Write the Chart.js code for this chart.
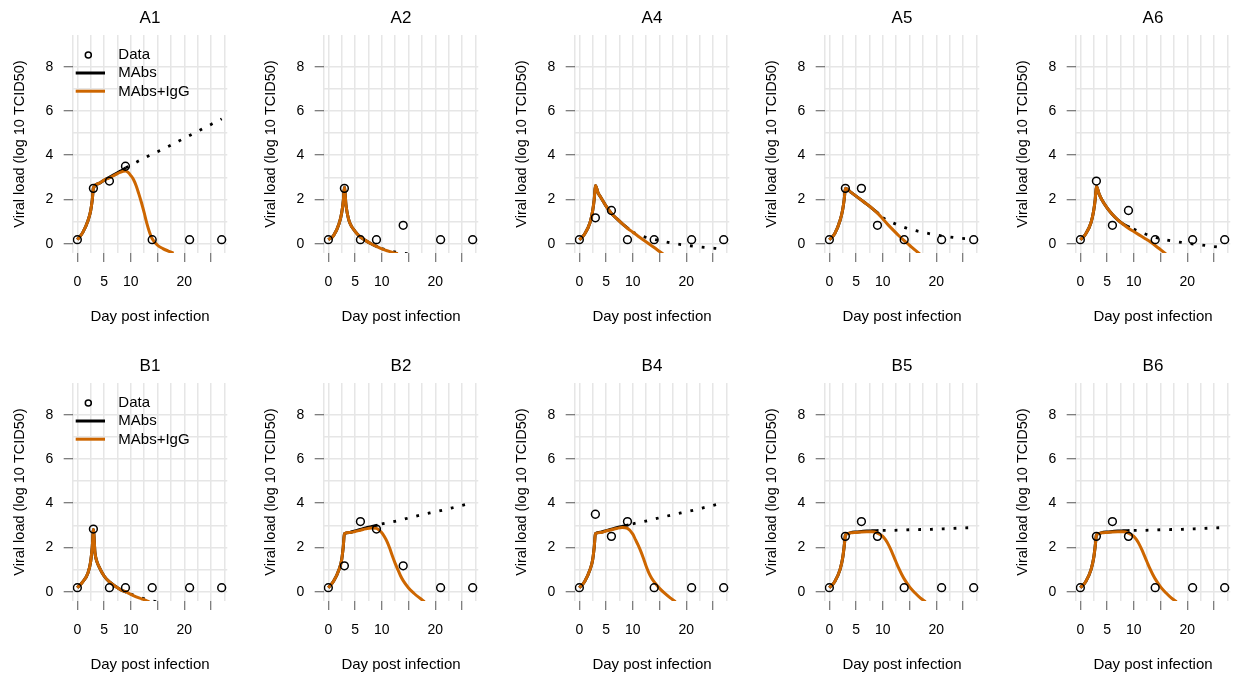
<!DOCTYPE html>
<html><head><meta charset="utf-8">
<script src="https://cdn.jsdelivr.net/npm/chart.js@4/dist/chart.umd.min.js"></script>
<style>
html,body{margin:0;padding:0;background:#fff;overflow:hidden;width:1236px;height:677px;position:relative;}
canvas{position:absolute;}
</style></head><body>
<script>
// ---------- data ----------
const panelNames = ['A1','A2','A4','A5','A6','B1','B2','B4','B5','B6'];
const obsDays = [0,3,6,9,14,21,27];
const xTicks = [0,5,10,15,20,25];
const xTickLabels = ['0','5','10','','20',''];
const yTicks = [0,2,4,6,8];
const yTickLabels = ['0','2','4','6','8'];
const legendLabels = ['Data','MAbs','MAbs+IgG'];
const xTitle = 'Day post infection';
const yTitle = 'Viral load (log 10 TCID50)';

const obsA1 = [0.18,2.5,2.83,3.5,0.18,0.18,0.18];
const obsA2 = [0.18,2.5,0.18,0.18,0.83,0.18,0.18];
const obsA4 = [0.18,1.17,1.5,0.18,0.18,0.18,0.18];
const obsA5 = [0.18,2.5,2.5,0.83,0.18,0.18,0.18];
const obsA6 = [0.18,2.83,0.83,1.5,0.18,0.18,0.18];
const obsB1 = [0.18,2.83,0.18,0.18,0.18,0.18,0.18];
const obsB2 = [0.18,1.17,3.17,2.83,1.17,0.18,0.18];
const obsB4 = [0.18,3.5,2.5,3.17,0.18,0.18,0.18];
const obsB5 = [0.18,2.5,3.17,2.5,0.18,0.18,0.18];
const obsB6 = [0.18,2.5,3.17,2.5,0.18,0.18,0.18];

// MAbs+IgG model curves [day, value]
const igA1 = [[0,0.18],[1,0.5],[2,1.05],[2.5,1.5],[2.8,2.0],[3,2.51],[4,2.72],[5,2.87],[6,2.98],[7,3.1],[8,3.22],[9,3.28],[9.5,3.22],[10,3.08],[10.5,2.9],[11,2.62],[11.5,2.25],[12,1.85],[12.5,1.4],[13,0.92],[13.5,0.52],[14,0.22],[15,-0.07],[16,-0.22],[17,-0.33],[18,-0.43]];
const igA2 = [[0,0.18],[1,0.38],[2,0.9],[2.5,1.4],[2.8,1.95],[3,2.55],[3.3,1.75],[3.6,1.3],[4,0.95],[5,0.56],[6,0.3],[7,0.14],[8,0.0],[9,-0.12],[10,-0.23],[11,-0.32],[12,-0.39],[13,-0.45]];
const igA4 = [[0,0.18],[1,0.44],[2,0.96],[2.5,1.5],[2.8,2.05],[3,2.63],[3.5,2.3],[4,2.1],[5,1.7],[6,1.37],[7,1.13],[8,0.91],[9,0.7],[10,0.52],[11,0.34],[12,0.17],[13,0.0],[14,-0.17],[15,-0.35],[16,-0.52]];
const igA5 = [[0,0.18],[1,0.45],[2,1.05],[2.5,1.55],[2.8,2.05],[3,2.51],[4,2.33],[5,2.15],[6,1.97],[7,1.79],[8,1.6],[9,1.38],[10,1.12],[11,0.85],[12,0.6],[13,0.36],[14,0.14],[15,-0.07],[16,-0.28],[17,-0.48]];
const igA6 = [[0,0.18],[1,0.44],[2,0.96],[2.5,1.5],[2.8,2.05],[3,2.6],[3.5,2.25],[4,2.0],[5,1.62],[6,1.32],[7,1.08],[8,0.88],[9,0.7],[10,0.55],[11,0.4],[12,0.25],[13,0.1],[14,-0.08],[15,-0.27],[16,-0.46]];
const igB1 = [[0,0.18],[1,0.44],[2,0.86],[2.5,1.38],[2.8,2.06],[3,2.81],[3.3,1.76],[3.6,1.4],[4,1.16],[5,0.71],[6,0.44],[7,0.26],[8,0.1],[9,0.0],[10,-0.12],[11,-0.23],[12,-0.32],[13,-0.41],[13.5,-0.46]];
const igB2 = [[0,0.18],[1,0.48],[2,1.0],[2.5,1.46],[2.8,2.06],[3,2.62],[4,2.67],[5,2.72],[6,2.78],[7,2.84],[8,2.88],[9,2.86],[10,2.66],[10.5,2.48],[11,2.25],[11.5,1.95],[12,1.6],[12.5,1.28],[13,1.0],[13.5,0.72],[14,0.5],[15,0.17],[16,-0.07],[17,-0.27],[18,-0.45]];
const igB4 = [[0,0.18],[1,0.46],[2,1.0],[2.5,1.46],[2.8,2.06],[3,2.62],[4,2.68],[5,2.74],[6,2.8],[7,2.86],[8,2.9],[9,2.86],[10,2.6],[10.5,2.35],[11,2.1],[11.5,1.82],[12,1.5],[12.5,1.15],[13,0.85],[13.5,0.62],[14,0.44],[15,0.15],[16,-0.08],[17,-0.28],[18,-0.45]];
const igB5 = [[0,0.18],[1,0.45],[2,1.0],[2.5,1.53],[2.8,2.1],[3,2.55],[3.5,2.63],[4,2.66],[5,2.68],[6,2.7],[7,2.71],[8,2.71],[9,2.65],[10,2.5],[10.5,2.35],[11,2.15],[11.5,1.9],[12,1.62],[12.5,1.33],[13,1.05],[13.5,0.8],[14,0.58],[15,0.22],[16,-0.05],[17,-0.28],[18,-0.45]];
const igB6 = [[0,0.18],[1,0.45],[2,1.0],[2.5,1.53],[2.8,2.1],[3,2.55],[3.5,2.63],[4,2.66],[5,2.68],[6,2.7],[7,2.71],[8,2.71],[9,2.65],[10,2.5],[10.5,2.35],[11,2.15],[11.5,1.9],[12,1.62],[12.5,1.33],[13,1.05],[13.5,0.8],[14,0.58],[15,0.22],[16,-0.05],[17,-0.28],[18,-0.45]];

// MAbs model curves, fitted part (solid)
const mabsA1 = [[0,0.18],[1,0.5],[2,1.05],[2.5,1.5],[2.8,2.0],[3,2.51],[4,2.72],[5,2.87],[6,3.0],[7,3.13],[8,3.27],[9.1,3.43]];
const mabsA2 = [[0,0.18],[1,0.38],[2,0.9],[2.5,1.4],[2.8,1.95],[3,2.55],[3.3,1.75],[3.6,1.3],[4,0.95],[5,0.56],[6,0.3],[7,0.14],[8,0.0],[9.2,-0.14]];
const mabsA4 = [[0,0.18],[1,0.44],[2,0.96],[2.5,1.5],[2.8,2.05],[3,2.63],[3.5,2.3],[4,2.1],[5,1.7],[6,1.37],[7,1.13],[8,0.91],[9.2,0.67]];
const mabsA5 = [[0,0.18],[1,0.45],[2,1.05],[2.5,1.55],[2.8,2.05],[3,2.51],[4,2.33],[5,2.15],[6,1.97],[7,1.79],[8,1.6],[9.2,1.35]];
const mabsA6 = [[0,0.18],[1,0.44],[2,0.96],[2.5,1.5],[2.8,2.05],[3,2.6],[3.5,2.25],[4,2.0],[5,1.62],[6,1.32],[7,1.08],[8,0.89],[9.2,0.74]];
const mabsB1 = [[0,0.18],[1,0.44],[2,0.86],[2.5,1.38],[2.8,2.06],[3,2.81],[3.3,1.76],[3.6,1.4],[4,1.16],[5,0.71],[6,0.44],[7,0.26],[8,0.1],[9.2,-0.02]];
const mabsB2 = [[0,0.18],[1,0.48],[2,1.0],[2.5,1.46],[2.8,2.06],[3,2.62],[4,2.68],[5,2.75],[6,2.81],[7,2.88],[8,2.94],[9.2,3.01]];
const mabsB4 = [[0,0.18],[1,0.46],[2,1.0],[2.5,1.46],[2.8,2.06],[3,2.62],[4,2.69],[5,2.76],[6,2.82],[7,2.89],[8,2.95],[9.2,3.02]];
const mabsB5 = [[0,0.18],[1,0.45],[2,1.0],[2.5,1.53],[2.8,2.1],[3,2.55],[3.5,2.63],[4,2.67],[5,2.7],[6,2.72],[7,2.74],[8,2.75],[9.2,2.76]];
const mabsB6 = [[0,0.18],[1,0.45],[2,1.0],[2.5,1.53],[2.8,2.1],[3,2.55],[3.5,2.63],[4,2.67],[5,2.7],[6,2.72],[7,2.74],[8,2.75],[9.2,2.76]];

// MAbs model curves, extrapolated part (dotted)
const extA1 = [[9.1,3.43],[11,3.68],[13,3.93],[15,4.16],[17,4.39],[19,4.64],[21,4.89],[23,5.14],[25,5.39],[27,5.64]];
const extA2 = [[10,-0.22],[11,-0.3],[12,-0.35],[13,-0.39],[14,-0.43],[15,-0.46]];
const extA4 = [[10,0.52],[11,0.41],[12,0.32],[14,0.19],[16,0.09],[18,0.0],[20,-0.07],[22,-0.13],[24,-0.18],[26,-0.22],[27,-0.24]];
const extA5 = [[10,1.17],[11,1.04],[12,0.93],[14,0.74],[16,0.6],[18,0.49],[20,0.39],[22,0.32],[24,0.26],[26,0.22],[27,0.2]];
const extA6 = [[10,0.66],[11,0.55],[12,0.45],[14,0.29],[16,0.17],[18,0.09],[20,0.02],[22,-0.04],[24,-0.1],[26,-0.16],[27,-0.18]];
const extB1 = [[10,-0.11],[11,-0.2],[12,-0.28],[13,-0.35],[14,-0.41],[15,-0.46]];
const extB2 = [[10,3.06],[11,3.11],[13,3.21],[15,3.33],[17,3.45],[19,3.56],[21,3.66],[23,3.78],[25,3.9],[27,4.02]];
const extB4 = [[10,3.07],[11,3.12],[13,3.22],[15,3.34],[17,3.45],[19,3.56],[21,3.66],[23,3.78],[25,3.9],[27,4.02]];
const extB5 = [[10,2.77],[11,2.77],[13,2.78],[15,2.8],[17,2.81],[19,2.82],[21,2.84],[23,2.86],[25,2.88],[27,2.9]];
const extB6 = [[10,2.77],[11,2.77],[13,2.78],[15,2.8],[17,2.81],[19,2.82],[21,2.84],[23,2.86],[25,2.88],[27,2.9]];

// ---------- build ----------
const panelTable = [
  {obs:obsA1, ig:igA1, mabs:mabsA1, ext:extA1, legend:true},
  {obs:obsA2, ig:igA2, mabs:mabsA2, ext:extA2},
  {obs:obsA4, ig:igA4, mabs:mabsA4, ext:extA4},
  {obs:obsA5, ig:igA5, mabs:mabsA5, ext:extA5},
  {obs:obsA6, ig:igA6, mabs:mabsA6, ext:extA6},
  {obs:obsB1, ig:igB1, mabs:mabsB1, ext:extB1, legend:true},
  {obs:obsB2, ig:igB2, mabs:mabsB2, ext:extB2},
  {obs:obsB4, ig:igB4, mabs:mabsB4, ext:extB4},
  {obs:obsB5, ig:igB5, mabs:mabsB5, ext:extB5},
  {obs:obsB6, ig:igB6, mabs:mabsB6, ext:extB6}
];

const FONT = '"Liberation Sans", Arial, Helvetica, sans-serif';
const ORANGE = '#CD6600';
const GRID = '#e6e6e6';
const TICK = '#555555';
const colLeft = [0, 251, 502, 752, 1003];
const rowTop = [0, 348];

const toXY = arr => arr.map(p => ({x: p[0], y: p[1]}));

const rLegend = {
  id: 'rLegend',
  afterDatasetsDraw(chart, args, opts) {
    if (!opts || !opts.show) return;
    const {ctx, chartArea} = chart;
    const L = chartArea.left, T = chartArea.top;
    ctx.save();
    ctx.font = '15px ' + FONT;
    ctx.textBaseline = 'middle';
    ctx.textAlign = 'left';
    ctx.fillStyle = '#000';
    ctx.strokeStyle = '#000';
    ctx.lineWidth = 1.5;
    ctx.beginPath();
    ctx.arc(L + 15.6, T + 20, 3.0, 0, Math.PI * 2);
    ctx.stroke();
    ctx.fillText(legendLabels[0], L + 45.6, T + 20);
    ctx.lineWidth = 3;
    ctx.lineCap = 'butt';
    ctx.beginPath(); ctx.moveTo(L + 3, T + 38); ctx.lineTo(L + 32.3, T + 38); ctx.stroke();
    ctx.fillText(legendLabels[1], L + 45.6, T + 38.3);
    ctx.strokeStyle = ORANGE;
    ctx.beginPath(); ctx.moveTo(L + 3, T + 56.2); ctx.lineTo(L + 32.3, T + 56.2); ctx.stroke();
    ctx.fillText(legendLabels[2], L + 45.6, T + 56.5);
    ctx.restore();
  }
};

panelNames.forEach((name, idx) => {
  const p = panelTable[idx];
  const col = idx % 5, row = Math.floor(idx / 5);
  const cv = document.createElement('canvas');
  cv.width = 300; cv.height = 330;
  cv.style.left = colLeft[col] + 'px';
  cv.style.top = rowTop[row] + 'px';
  cv.style.width = '300px'; cv.style.height = '330px';
  document.body.appendChild(cv);

  new Chart(cv, {
    type: 'scatter',
    data: {
      datasets: [
        {label: legendLabels[0], data: obsDays.map((d, i) => ({x: d, y: p.obs[i]})),
         showLine: false, pointRadius: 3.9, pointHoverRadius: 3.9, pointBorderWidth: 1.5,
         pointBorderColor: '#000', pointBackgroundColor: 'rgba(0,0,0,0)', order: 0},
        {label: legendLabels[2], data: toXY(p.ig), showLine: true, borderColor: ORANGE, borderWidth: 3,
         pointRadius: 0, cubicInterpolationMode: 'monotone', clip: 0, order: 1, borderJoinStyle: 'round'},
        {label: legendLabels[1], data: toXY(p.mabs), showLine: true, borderColor: '#000', borderWidth: 3,
         pointRadius: 0, cubicInterpolationMode: 'monotone', clip: 0, order: 2, borderJoinStyle: 'round'},
        {label: legendLabels[1] + ' (extrapolated)', data: toXY(p.ext), showLine: true, borderColor: '#000',
         borderWidth: 2.8, borderDash: [2.8, 9.0], borderCapStyle: 'butt',
         pointRadius: 0, cubicInterpolationMode: 'monotone', clip: 0, order: 3}
      ]
    },
    options: {
      responsive: false, animation: false, devicePixelRatio: 1,
      events: [],
      layout: {padding: {left: 11.3, right: 11.3, top: 0, bottom: 4}},
      plugins: {
        legend: {display: false},
        tooltip: {enabled: false},
        title: {display: true, text: name, color: '#000',
                font: {family: FONT, size: 17, weight: 'normal'}, padding: {top: 8.3, bottom: 6.3}},
        rLegend: {show: !!p.legend}
      },
      scales: {
        x: {
          type: 'linear', position: 'bottom', min: -0.87, max: 28.05,
          afterBuildTicks: s => {
            const t = [{value: s.min}];
            for (let v = 0; v <= s.max; v += 2.5) t.push({value: v});
            s.ticks = t;
          },
          afterFit: s => { s.height = 73; },
          ticks: {autoSkip: false, maxRotation: 0, minRotation: 0, padding: 11.3, color: '#000',
                  font: {family: FONT, size: 14},
                  callback: v => { const i = xTicks.indexOf(v); return i >= 0 ? xTickLabels[i] : ''; }},
          grid: {color: GRID, lineWidth: 1.5, drawTicks: true, tickLength: 9, tickWidth: 1,
                 tickColor: c => (c.tick && xTicks.includes(c.tick.value)) ? TICK : 'rgba(0,0,0,0)'},
          border: {display: false},
          title: {display: true, text: xTitle, color: '#000', font: {family: FONT, size: 15}, padding: {top: 0, bottom: 0}}
        },
        y: {
          type: 'linear', position: 'left', min: -0.42, max: 9.43,
          afterBuildTicks: s => {
            const t = [];
            for (let v = 0; v <= 8; v += 1) t.push({value: v});
            s.ticks = t;
          },
          afterFit: s => { s.width = 61.4; },
          ticks: {autoSkip: false, padding: 10.4, color: '#000', font: {family: FONT, size: 14},
                  callback: v => { const i = yTicks.indexOf(v); return i >= 0 ? yTickLabels[i] : ''; }},
          grid: {color: GRID, lineWidth: 1.5, drawTicks: true, tickLength: 9, tickWidth: 1,
                 tickColor: c => (c.tick && yTicks.includes(c.tick.value)) ? TICK : 'rgba(0,0,0,0)'},
          border: {display: false},
          title: {display: true, text: yTitle, color: '#000', font: {family: FONT, size: 14.5}, padding: {top: 0, bottom: 0}}
        },
        y2: {
          type: 'linear', position: 'right', display: true,
          afterFit: s => { s.width = 61.4; },
          ticks: {display: false}, grid: {display: false}, border: {display: false}
        }
      }
    },
    plugins: [rLegend]
  });
});
</script>
</body></html>
